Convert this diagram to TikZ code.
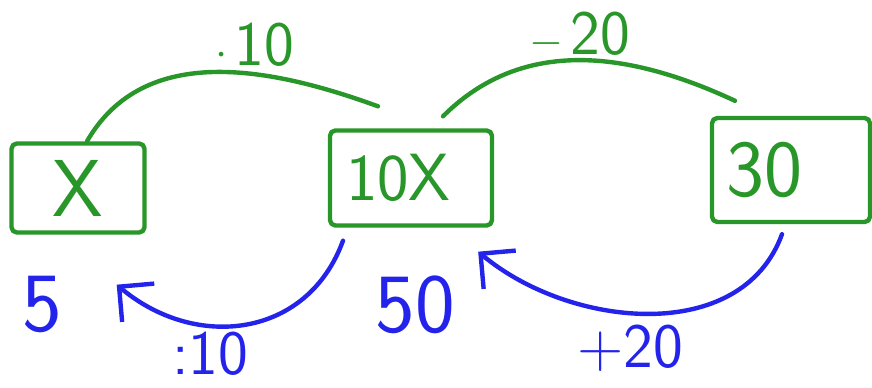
\documentclass[tikz,border=0pt]{standalone}
\usepackage{tikz}
\usetikzlibrary{arrows.meta,calc}
\definecolor{pengreen}{RGB}{40,150,40}
\definecolor{penblue}{RGB}{35,35,235}

\begin{document}
\begin{tikzpicture}[x=0.02cm,y=0.02cm,
		pen/.style={line width=2.5pt,line cap=round,line join=round},
		box/.style={pen,draw=pengreen,text=pengreen,rounded corners=3pt,inner sep=0pt,font=\sffamily\fontsize{46}{50}\selectfont},
		opgreen/.style={text=pengreen,font=\sffamily\fontsize{36}{40}\selectfont},
		opblue/.style={text=penblue,font=\sffamily\fontsize{36}{40}\selectfont},
		valblue/.style={text=penblue,font=\sffamily\fontsize{48}{52}\selectfont},
		back/.style={pen,draw=penblue,-{Straight Barb[length=5mm,width=10mm]}}]
		\useasboundingbox (0,0) rectangle (872,388);
		\node[box,minimum width=2.66cm,minimum height=1.78cm] (X) at (78,200) {X};
		\node[box,minimum height=1.9cm,text width=2.6cm,inner xsep=0.32cm,align=left,
			font=\sffamily\fontsize{38}{42}\selectfont] (T) at (411,210) {10X};
		\node[box,minimum height=2.08cm,text width=2.6cm,inner xsep=0.28cm,align=left] (D) at (791,218) {30};
		\coordinate (g1) at ($(T.north)+(-33,22)$);
		\coordinate (g2) at ($(T.north)+(32,12)$);
		\coordinate (g3) at ($(D.north)+(-56,15)$);
		\coordinate (b1) at ($(T.south)+(-68,-13)$);
		\coordinate (b2) at ($(D.south)+(-9,-10)$);
		\draw[pen,pengreen] ($(X.north)+(9,0)$) to[out=60,in=160] (g1);
		\draw[pen,pengreen] (g2) to[out=45,in=155] (g3);
		\draw[back] (b1) to[out=-110,in=-40,looseness=1.15] ($(X.south east)+(-30,-50)$);
		\draw[back] (b2) to[out=-110,in=-40] ($(T.south east)+(-16,-24)$);
		\node[opgreen] (m10) at (255,343) {$\cdot\,$10};
		\node[opgreen] (s20) at (580,353) {$-\,$20};
		\node[opblue] (d10) at (210,34) {:10};
		\node[opblue] (p20) at (630,40) {+20};
		\node[valblue] (v5) at (42,83) {5};
		\node[valblue] (v50) at (415,83) {50};
	\end{tikzpicture}
\end{document}
